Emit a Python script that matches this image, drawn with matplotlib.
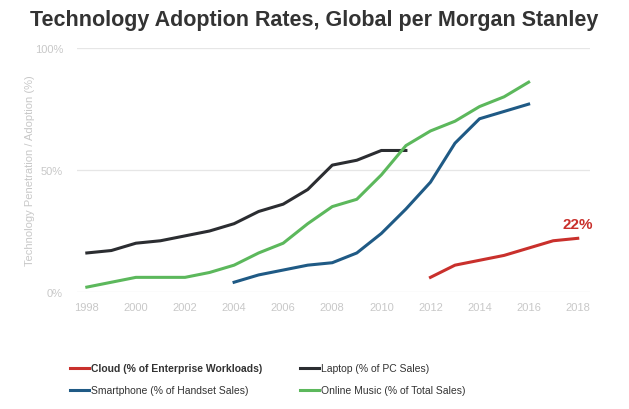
import matplotlib
matplotlib.use('Agg')
import matplotlib.pyplot as plt

plt.rcParams['font.family'] = ['Liberation Sans', 'DejaVu Sans']

# data (percent)
laptop_years = list(range(1998, 2012))
laptop = [16, 17, 20, 21, 23, 25, 28, 33, 36, 42, 52, 54, 58, 58]

music_years = list(range(1998, 2017))
music = [2, 4, 6, 6, 6, 8, 11, 16, 20, 28, 35, 38, 48, 60, 66, 70, 76, 80, 86]

phone_years = list(range(2004, 2017))
phone = [4, 7, 9, 11, 12, 16, 24, 34, 45, 61, 71, 74, 77]

cloud_years = list(range(2012, 2019))
cloud = [6, 11, 13, 15, 18, 21, 22]

RED = '#c9302c'
DARK = '#2b2d31'
BLUE = '#1f5a85'
GREEN = '#5cb85c'
GREY = '#c8c8c8'

fig = plt.figure(figsize=(6.29, 4.10), dpi=100)
ax = fig.add_axes([77/629, 117/410, 513/629, 244/410])

l_cloud, = ax.plot(cloud_years, cloud, color=RED, lw=2.2, label='Cloud (% of Enterprise Workloads)')
l_phone, = ax.plot(phone_years, phone, color=BLUE, lw=2.2, label='Smartphone (% of Handset Sales)')
l_lap, = ax.plot(laptop_years, laptop, color=DARK, lw=2.2, label='Laptop (% of PC Sales)')
l_music, = ax.plot(music_years, music, color=GREEN, lw=2.2, label='Online Music (% of Total Sales)')
for l in (l_cloud, l_phone, l_lap, l_music):
    l.set_clip_on(False)

ax.annotate('22%', (cloud_years[-1], cloud[-1]), xytext=(0, 5), textcoords='offset points',
            ha='center', va='bottom', color=RED, fontsize=11, fontweight='bold')

ax.set_xlim(1997.6, 2018.5)
ax.set_ylim(0, 100)
ax.set_xticks(range(1998, 2019, 2))
ax.set_yticks([0, 50, 100])
ax.set_yticklabels(['0%', '50%', '100%'])
ax.grid(axis='y', color='#e6e6e6', lw=0.9)
ax.set_axisbelow(True)
for s in ax.spines.values():
    s.set_visible(False)
ax.tick_params(length=0, colors=GREY, labelsize=8)
ax.tick_params(axis='x', pad=7)
ax.tick_params(axis='y', pad=10)
ax.set_ylabel('Technology Penetration / Adoption (%)', color=GREY, fontsize=8, labelpad=0)

fig.suptitle('Technology Adoption Rates, Global per Morgan Stanley', x=0.5, y=0.975,
             fontsize=15.5, fontweight='bold', color='#333333')

leg_kw = dict(loc='upper left', frameon=False, handlelength=1.8, handletextpad=0.15,
              labelspacing=1.15, fontsize=7.5)
leg1 = fig.legend(handles=[l_cloud, l_phone], bbox_to_anchor=(61/629, 1 - 355/410), **leg_kw)
leg2 = fig.legend(handles=[l_lap, l_music], bbox_to_anchor=(291/629, 1 - 355/410), **leg_kw)
leg1.get_texts()[0].set_fontweight('bold')
for lg in (leg1, leg2):
    for t in lg.get_texts():
        t.set_color('#333333')

fig.savefig('out.png', dpi=100)
